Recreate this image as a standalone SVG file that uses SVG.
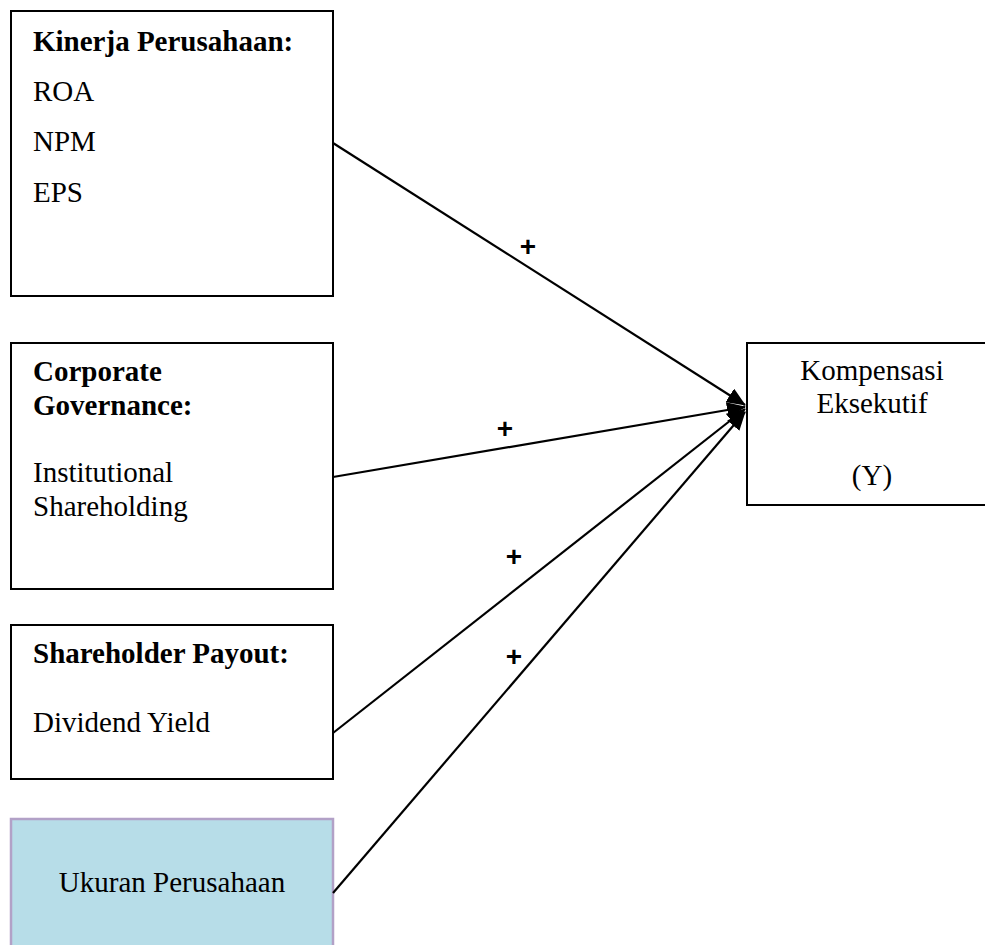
<svg xmlns="http://www.w3.org/2000/svg" width="985" height="945" viewBox="0 0 985 945">
<style>
.box{fill:#ffffff;stroke:#000000;stroke-width:2}
.blue{fill:#b7dde8;stroke:#b2a1c7;stroke-width:2.5}
text{font-family:"Liberation Serif","Times New Roman",serif;font-size:29px;fill:#000000}
.b{font-weight:bold}
.plus{font-family:"Liberation Sans",Arial,sans-serif;font-size:28px;font-weight:bold;text-anchor:middle}
.edge{stroke:#000000;stroke-width:2.2;fill:none}
</style>
<defs>
<marker id="arrow" markerUnits="userSpaceOnUse" markerWidth="20" markerHeight="16" refX="18" refY="8" orient="auto">
<path d="M0,0 L19,8 L0,16 Z" fill="#000000"/>
</marker>
</defs>
<rect width="985" height="945" fill="#ffffff"/>
<g id="kinerja">
<rect class="box" x="11" y="11" width="322" height="285"/>
<text class="b" x="33" y="51">Kinerja Perusahaan:</text>
<text x="33" y="101">ROA</text>
<text x="33" y="151">NPM</text>
<text x="33" y="202">EPS</text>
</g>
<g id="governance">
<rect class="box" x="11" y="343" width="322" height="246"/>
<text class="b" x="33" y="381">Corporate</text>
<text class="b" x="33" y="415">Governance:</text>
<text x="33" y="482">Institutional</text>
<text x="33" y="516">Shareholding</text>
</g>
<g id="payout">
<rect class="box" x="11" y="625" width="322" height="154"/>
<text class="b" x="33" y="663">Shareholder Payout:</text>
<text x="33" y="732">Dividend Yield</text>
</g>
<g id="ukuran">
<rect class="blue" x="11" y="819" width="322" height="140"/>
<text x="172" y="892" text-anchor="middle">Ukuran Perusahaan</text>
</g>
<g id="kompensasi">
<rect class="box" x="747" y="343" width="260" height="162"/>
<text x="872" y="380" text-anchor="middle">Kompensasi</text>
<text x="872" y="413" text-anchor="middle">Eksekutif</text>
<text x="872" y="485" text-anchor="middle">(Y)</text>
</g>
<g id="connectors">
<line class="edge" x1="333" y1="143" x2="745" y2="405" marker-end="url(#arrow)"/>
<line class="edge" x1="333" y1="477" x2="745" y2="407" marker-end="url(#arrow)"/>
<line class="edge" x1="333" y1="733" x2="745" y2="409" marker-end="url(#arrow)"/>
<line class="edge" x1="333" y1="893" x2="745" y2="412" marker-end="url(#arrow)"/>
<text class="plus" x="528" y="256">+</text>
<text class="plus" x="505" y="438">+</text>
<text class="plus" x="514" y="566">+</text>
<text class="plus" x="514" y="666">+</text>
</g>
</svg>
